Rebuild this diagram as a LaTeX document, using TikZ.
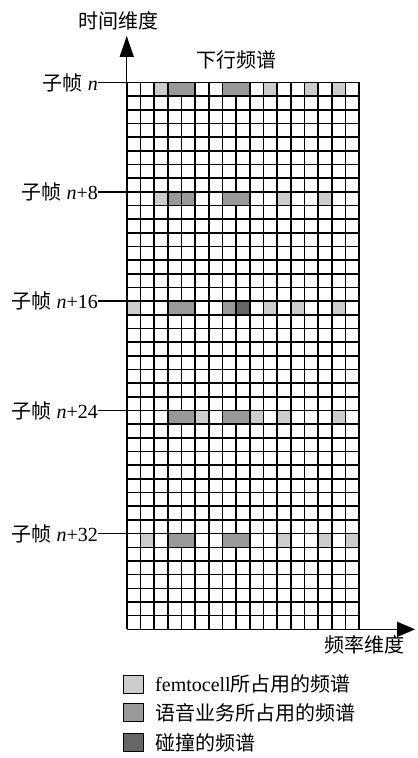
\documentclass[tikz,border=0pt]{standalone}
\usepackage{fontspec}
\setmainfont{Liberation Serif}
\newfontfamily\cjk{Noto Sans CJK SC}
\usetikzlibrary{arrows.meta}
\colorlet{femtogray}{black!20}
\colorlet{voicegray}{black!40}
\colorlet{clashgray}{black!60}

\begin{document}
\begin{tikzpicture}[x=13.67pt, y=13.67pt, font=\fontsize{20}{24}\selectfont]
		%%%%% START %%%%%
		\useasboundingbox (-9.27, -9.41) rectangle (21.24, 46.03);

		\draw[line width=1.6pt, step=1] (0, 0) grid (17, 40);

		% femtocell
		\foreach \c/\r in {2/39, 10/39, 13/39, 15/39, 2/31, 11/31, 14/31, 0/23, 10/23, 12/23, 15/23, 5/15, 9/15, 11/15, 15/15, 1/6, 11/6, 14/6, 16/6}
			\draw[line width=1.6pt, fill=femtogray] (\c, \r) rectangle ++(1, 1);

		% voice
		\foreach \c/\r/\w in {3/39/2, 7/39/2, 3/31/1, 4/31/1, 7/31/2, 3/23/2, 7/23/1, 3/15/2, 7/15/2, 3/6/2, 7/6/2}
			\draw[line width=1.6pt, fill=voicegray] (\c, \r) rectangle ++(\w, 1);

		% collision
		\draw[line width=1.6pt, fill=clashgray] (8, 23) rectangle (9, 24);

		\draw[line width=1.4pt, -{Triangle[length=21pt, width=14pt]}] (0, 40) -- (0, 43.4);
		\node (tdim) at (-0.6, 44.5) {\cjk 时间维度};

		\draw[line width=1.4pt, -{Triangle[length=18pt, width=15pt]}] (17, 0) -- (21.09, 0);
		\node (fdim) at (17.38, -1.14) {\cjk 频率维度};

		\node (dl) at (8.0, 41.65) {\cjk 下行频谱};

		\foreach \r/\t in {40/, 32/+8, 24/+16, 16/+24, 7/+32} {
			\node[anchor=east, inner sep=0pt] (sf\r) at (-2.1, \r) {{\cjk 子帧} \textit{n}\t};
			\draw[line width=1.4pt] (sf\r.east) -- (0, \r);
		}

		\node[draw, line width=1.6pt, fill=femtogray, minimum width=20pt, minimum height=18pt, inner sep=0pt] (lgf) at (0.48, -4.02) {};
		\node[draw, line width=1.6pt, fill=voicegray, minimum width=20pt, minimum height=18pt, inner sep=0pt] (lgv) at (0.48, -6.09) {};
		\node[draw, line width=1.6pt, fill=clashgray, minimum width=20pt, minimum height=18pt, inner sep=0pt] (lgc) at (0.48, -8.28) {};
		\node[anchor=west, inner sep=0pt] (lgft) at (2.07, -4.02) {femtocell{\cjk 所占用的频谱}};
		\node[anchor=west, inner sep=0pt] (lgvt) at (2.07, -6.09) {\cjk 语音业务所占用的频谱};
		\node[anchor=west, inner sep=0pt] (lgct) at (2.07, -8.28) {\cjk 碰撞的频谱};
		%%%%% END %%%%%
	\end{tikzpicture}
\end{document}
